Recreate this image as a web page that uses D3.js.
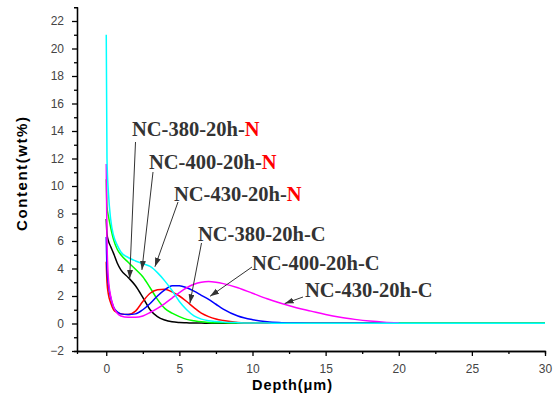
<!DOCTYPE html>
<html>
<head>
<meta charset="utf-8">
<script src="https://cdn.jsdelivr.net/npm/d3@7"></script>
<style>
  body { margin: 0; background: #fff; }
  .tick text { font-family: Arial, "Liberation Sans", sans-serif; font-size: 12px; fill: #444; }
  .domain, .tick line { stroke: #000; stroke-width: 1.3px; }
</style>
</head>
<body>
<script>
// depth grid (um), shared by all six profiles
var depth = [0, 0.05, 0.15, 0.3, 0.5, 0.75, 1, 1.5, 2, 2.5, 3, 3.5, 4, 4.5, 5, 5.5, 6, 6.5, 7, 7.5, 8,
  9, 10, 11, 12, 13, 14, 15, 16, 17, 18, 19, 20, 25, 30];

// nitrogen profiles (wt%)
var n380 = [7.6, 6.5, 6.0, 5.6, 5.1, 4.4, 3.9, 3.35, 2.75, 1.9, 1.0, 0.5, 0.25, 0.12, 0.07, 0.05, 0.03, 0.03, 0.02, 0.02, 0.02,
  0.02, 0.02, 0.02, 0.02, 0.02, 0.02, 0.02, 0.02, 0.02, 0.02, 0.02, 0.02, 0.02, 0.02];
var n400 = [10.5, 8.5, 7.8, 7.0, 6.1, 5.4, 5.0, 4.45, 3.95, 3.4, 2.6, 1.75, 1.1, 0.75, 0.5, 0.3, 0.2, 0.12, 0.08, 0.06, 0.05,
  0.03, 0.02, 0.02, 0.02, 0.02, 0.02, 0.02, 0.02, 0.02, 0.02, 0.02, 0.02, 0.02, 0.02];
var n430 = [21.0, 12.0, 9.5, 7.6, 6.4, 5.7, 5.2, 4.8, 4.55, 4.35, 4.15, 3.7, 3.1, 2.4, 1.6, 1.0, 0.55, 0.32, 0.2, 0.14, 0.1,
  0.06, 0.04, 0.03, 0.02, 0.02, 0.02, 0.02, 0.02, 0.02, 0.02, 0.02, 0.02, 0.02, 0.02];

// carbon profiles (wt%), measured to 20 um
var c380 = [4.5, 3.0, 2.1, 1.5, 1.0, 0.8, 0.7, 0.65, 0.9, 1.6, 2.2, 2.45, 2.5, 2.3, 2.0, 1.6, 1.15, 0.75, 0.5, 0.33, 0.22,
  0.08, 0.03, 0.02, 0.02, 0.02, 0.02, 0.02, 0.02, 0.02, 0.02, 0.02, 0.02];
var c400 = [6.3, 4.0, 2.8, 1.9, 1.2, 0.85, 0.7, 0.65, 0.7, 1.0, 1.45, 2.0, 2.45, 2.75, 2.75, 2.6, 2.35, 2.05, 1.75, 1.4, 1.05,
  0.55, 0.28, 0.12, 0.06, 0.03, 0.02, 0.02, 0.02, 0.02, 0.02, 0.02, 0.02];
var c430 = [11.6, 6.0, 3.2, 2.0, 1.2, 0.75, 0.55, 0.45, 0.45, 0.55, 0.8, 1.1, 1.45, 1.85, 2.25, 2.6, 2.85, 3.0, 3.05, 3.0, 2.9,
  2.6, 2.2, 1.8, 1.45, 1.15, 0.9, 0.65, 0.45, 0.3, 0.18, 0.1, 0.06];

var xTicks = [0, 5, 10, 15, 20, 25, 30];
var yTicks = [-2, 0, 2, 4, 6, 8, 10, 12, 14, 16, 18, 20, 22];

// drawing order: cyan ends up on top
var series = [
  { name: "NC-380-20h-N", values: n380, color: "#000000" },
  { name: "NC-400-20h-N", values: n400, color: "#00ff00" },
  { name: "NC-380-20h-C", values: c380, color: "#ff0000" },
  { name: "NC-400-20h-C", values: c400, color: "#0000ff" },
  { name: "NC-430-20h-C", values: c430, color: "#ff00ff" },
  { name: "NC-430-20h-N", values: n430, color: "#00ffff" }
];

// labels: text spot in pixels, arrow tip on the curve in data units
var notes = [
  { text: "NC-380-20h-", el: "N", tx: 132, ty: 136, sx: 135.5, sy: 142, d: 1.6, v: 3.25 },
  { text: "NC-400-20h-", el: "N", tx: 149, ty: 169, sx: 153, sy: 172, d: 2.44, v: 3.9 },
  { text: "NC-430-20h-", el: "N", tx: 174, ty: 201, sx: 178, sy: 202, d: 3.33, v: 4.13 },
  { text: "NC-380-20h-", el: "C", tx: 198, ty: 241, sx: 201.5, sy: 243, d: 5.72, v: 1.47 },
  { text: "NC-400-20h-", el: "C", tx: 252, ty: 270, sx: 252, sy: 267, d: 7.1, v: 1.98 },
  { text: "NC-430-20h-", el: "C", tx: 305, ty: 297, sx: 303, sy: 297, d: 12.2, v: 1.45 }
];

var width = 558, height = 399;

var svg = d3.select("body").append("svg")
  .attr("width", width)
  .attr("height", height);

var x = d3.scaleLinear().domain([-2, 30]).range([77, 545]);
var y = d3.scaleLinear().domain([-2, 23]).range([351, 7.25]);

// axes (major + minor ticks)
svg.append("g")
  .attr("transform", "translate(0," + y(-2) + ")")
  .call(d3.axisBottom(x).tickValues(d3.range(2.5, 30, 5)).tickSize(3).tickFormat(""));
svg.append("g")
  .attr("transform", "translate(0," + y(-2) + ")")
  .call(d3.axisBottom(x).tickValues(xTicks).tickSize(5).tickPadding(8).tickSizeOuter(0));

svg.append("g")
  .attr("transform", "translate(" + x(-2) + ",0)")
  .call(d3.axisLeft(y).tickValues(d3.range(-1, 23, 2)).tickSize(3).tickFormat(""));
svg.append("g")
  .attr("transform", "translate(" + x(-2) + ",0)")
  .call(d3.axisLeft(y).tickValues(yTicks).tickSize(5).tickPadding(8).tickSizeOuter(0));

svg.selectAll(".domain").attr("stroke-width", 1.5);

// curves
var line = d3.line()
  .x(function(d) { return x(d[0]); })
  .y(function(d) { return y(d[1]); })
  .curve(d3.curveMonotoneX);

svg.selectAll("path.curve")
  .data(series)
  .enter().append("path")
  .attr("class", "curve")
  .attr("fill", "none")
  .attr("stroke", function(d) { return d.color; })
  .attr("stroke-width", 1.5)
  .attr("d", function(s) {
    return line(s.values.map(function(v, i) { return [depth[i], v]; }));
  });

// arrowhead
svg.append("defs").append("marker")
  .attr("id", "head")
  .attr("markerUnits", "userSpaceOnUse")
  .attr("markerWidth", 10).attr("markerHeight", 8)
  .attr("refX", 9).attr("refY", 3)
  .attr("orient", "auto")
  .append("path")
  .attr("d", "M0,0L9,3L0,6Z")
  .attr("fill", "#333");

var note = svg.selectAll("g.note")
  .data(notes)
  .enter().append("g")
  .attr("class", "note");

note.append("line")
  .attr("x1", function(d) { return d.sx; })
  .attr("y1", function(d) { return d.sy; })
  .attr("x2", function(d) { return x(d.d); })
  .attr("y2", function(d) { return y(d.v); })
  .attr("stroke", "#333")
  .attr("stroke-width", 1)
  .attr("marker-end", "url(#head)");

var t = note.append("text")
  .attr("x", function(d) { return d.tx; })
  .attr("y", function(d) { return d.ty; })
  .attr("font-family", "'Liberation Serif', 'Times New Roman', serif")
  .attr("font-weight", "bold")
  .attr("font-size", 20.5)
  .attr("fill", "#333")
  .text(function(d) { return d.text; });
t.append("tspan")
  .attr("fill", function(d) { return d.el === "N" ? "#ff0000" : "#333"; })
  .text(function(d) { return d.el; });

// axis titles
svg.append("text")
  .attr("transform", "translate(27,174) rotate(-90)")
  .attr("text-anchor", "middle")
  .attr("font-family", "Arial, 'Liberation Sans', sans-serif")
  .attr("font-weight", "bold")
  .attr("font-size", 15)
  .attr("textLength", 114)
  .attr("lengthAdjust", "spacing")
  .text("Content(wt%)");

svg.append("text")
  .attr("x", 292)
  .attr("y", 390)
  .attr("text-anchor", "middle")
  .attr("font-family", "Arial, 'Liberation Sans', sans-serif")
  .attr("font-weight", "bold")
  .attr("font-size", 14.5)
  .attr("textLength", 80)
  .attr("lengthAdjust", "spacing")
  .text("Depth(\u03bcm)");
</script>
</body>
</html>
